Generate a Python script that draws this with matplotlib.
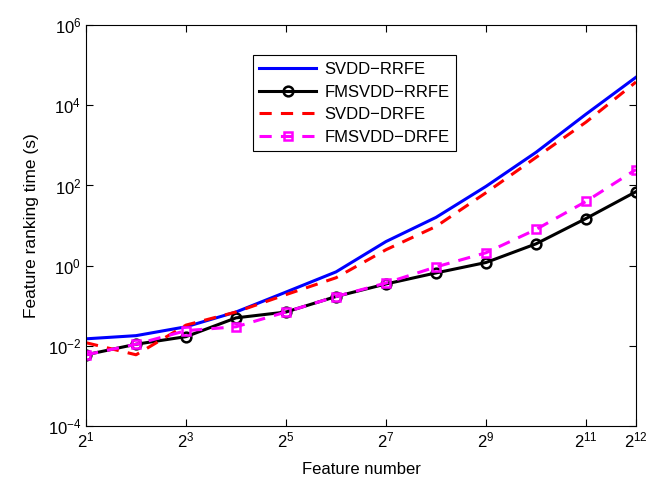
import numpy as np
import matplotlib
matplotlib.use('Agg')
import matplotlib.pyplot as plt
from matplotlib.ticker import FixedLocator, NullLocator

plt.rcParams['font.family'] = ['Liberation Sans', 'DejaVu Sans']
plt.rcParams['mathtext.fontset'] = 'custom'
plt.rcParams['mathtext.rm'] = 'Liberation Sans'
plt.rcParams['mathtext.it'] = 'Liberation Sans:italic'

# x: feature number as powers of 2
exponents = np.arange(1, 13)
feature_number = 2.0 ** exponents

svdd_rrfe = [0.015, 0.018, 0.030, 0.07, 0.22, 0.7, 4.0, 16, 95, 670, 6000, 50000]
fmsvdd_rrfe = [0.006, 0.011, 0.017, 0.05, 0.07, 0.17, 0.35, 0.66, 1.2, 3.5, 15, 70]
svdd_drfe = [0.012, 0.006, 0.033, 0.07, 0.19, 0.5, 2.5, 9.5, 66, 500, 3800, 38000]
fmsvdd_drfe = [0.006, 0.011, 0.024, 0.03, 0.07, 0.17, 0.37, 0.93, 2.1, 8, 40, 250]

x_tick_exp = [1, 3, 5, 7, 9, 11, 12]
y_tick_exp = [-4, -2, 0, 2, 4, 6]

fig = plt.figure(figsize=(6.57, 4.82), dpi=100)
ax = fig.add_axes([0.131, 0.116, 0.837, 0.832])

ax.plot(feature_number, svdd_rrfe, '-', color='#0000ff', lw=2.2, label='SVDD\u2212RRFE')
ax.plot(feature_number, fmsvdd_rrfe, '-', color='black', lw=2.2, marker='o',
        ms=7, mfc='none', mew=1.8, label='FMSVDD\u2212RRFE')
ax.plot(feature_number, svdd_drfe, '--', color='#ff0000', lw=2.2, dashes=(4, 3),
        label='SVDD\u2212DRFE')
ax.plot(feature_number, fmsvdd_drfe, '--', color='#ff00ff', lw=2.2, dashes=(4, 3),
        marker='s', ms=6, mfc='none', mew=1.8, label='FMSVDD\u2212DRFE')

ax.set_xscale('log', base=2)
ax.set_yscale('log')
ax.set_xlim(2, 2 ** 12)
ax.set_ylim(1e-4, 1e6)

ax.xaxis.set_major_locator(FixedLocator([2.0 ** e for e in x_tick_exp]))
ax.xaxis.set_minor_locator(NullLocator())
ax.set_xticklabels([r'$2^{%d}$' % e for e in x_tick_exp])
ax.yaxis.set_major_locator(FixedLocator([10.0 ** e for e in y_tick_exp]))
ax.yaxis.set_minor_locator(NullLocator())
ax.set_yticklabels([r'$10^{%d}$' % e for e in y_tick_exp])

ax.tick_params(direction='in', top=True, right=True, length=5, labelsize=12)
ax.set_xlabel('Feature number', fontsize=12, labelpad=8)
ax.set_ylabel('Feature ranking time (s)', fontsize=12.5, labelpad=6)

leg = ax.legend(loc='upper left', bbox_to_anchor=(0.288, 0.945), fontsize=12,
                fancybox=False, edgecolor='black', framealpha=1,
                handlelength=3.4, borderpad=0.4, labelspacing=0.45,
                handletextpad=0.5)
leg.get_frame().set_linewidth(0.8)

fig.savefig('out.png', dpi=100)
